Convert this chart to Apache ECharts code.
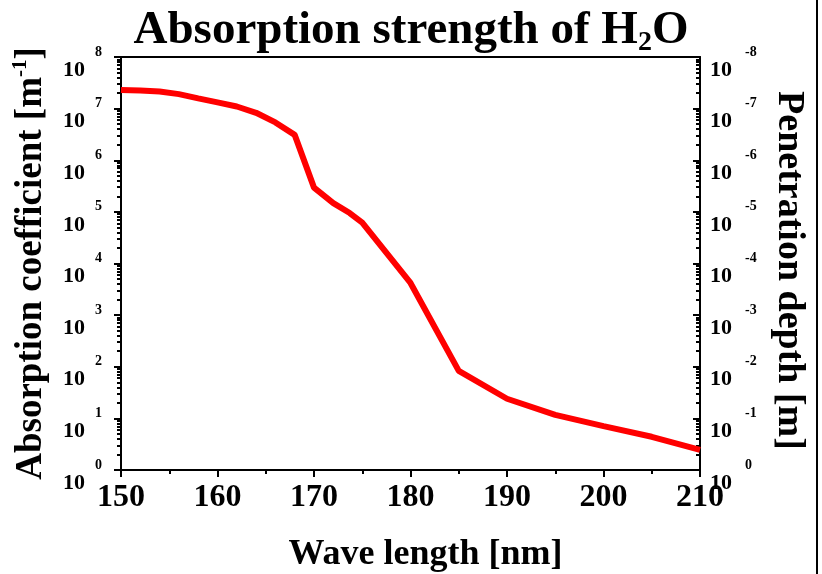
<!DOCTYPE html>
<html>
<head>
<meta charset="utf-8">
<script src="https://cdn.jsdelivr.net/npm/echarts@6/dist/echarts.min.js"></script>
<style>
  html, body { margin: 0; padding: 0; background: #fff; }
  #chart { width: 822px; height: 574px; }
</style>
</head>
<body>
<div id="chart"></div>
<script>
'use strict';

// wave length [nm]
var wavelength = [150, 152, 154, 156, 158, 160, 162, 164, 166, 168, 170, 172, 173.7, 175, 180, 185, 190, 195, 200, 205, 210];
// absorption coefficient [1/m]
var absorption = [2.29e7, 2.24e7, 2.14e7, 1.91e7, 1.58e7, 1.32e7, 1.10e7, 8.3e6, 5.4e6, 3.1e6, 2.95e5, 1.48e5, 9.5e4, 6.2e4, 4.2e3, 83, 24, 11.7, 7.1, 4.4, 2.45];

var decadeValues = [1, 10, 100, 1e3, 1e4, 1e5, 1e6, 1e7, 1e8];
var leftExpLabels = ['0', '1', '2', '3', '4', '5', '6', '7', '8'];
var rightExpLabels = ['0', '-1', '-2', '-3', '-4', '-5', '-6', '-7', '-8'];
var minorSteps = [2, 3, 4, 5, 6, 7, 8, 9];

var FONT = '"Liberation Serif", "Times New Roman", serif';

// minor tick positions in decades (exponent space) for the tick-only axes
var minorPositions = [];
for (var d = 0; d < 8; d++) {
  minorSteps.forEach(function (m) {
    minorPositions.push(d + Math.log10(m));
  });
}

function decadeIndex(v) {
  return Math.round(Math.log10(v));
}

var black = { color: '#000', width: 2 };

var tickOnlyAxis = function (pos, inside) {
  return {
    type: 'value', min: 0, max: 8, position: pos,
    axisLine: { show: false, onZero: false },
    axisTick: { show: true, inside: inside, length: 4, customValues: minorPositions, lineStyle: black },
    axisLabel: { show: false },
    splitLine: { show: false }
  };
};

var chart = echarts.init(document.getElementById('chart'));

var option = {
  animation: false,
  backgroundColor: '#fff',
  title: {
    text: 'Absorption strength of H{sub|2}O',
    left: 'center',
    top: 0,
    textStyle: {
      fontFamily: FONT, fontWeight: 'bold', fontSize: 47, color: '#000', lineHeight: 52,
      rich: {
        sub: { fontFamily: FONT, fontWeight: 'bold', fontSize: 28, lineHeight: 28, verticalAlign: 'bottom', color: '#000' }
      }
    }
  },
  grid: { left: 121, right: 122, top: 57, bottom: 104, containLabel: false, outerBoundsMode: 'none' },
  xAxis: [{
    type: 'value', min: 150, max: 210, interval: 10, position: 'bottom',
    axisLine: { onZero: false, lineStyle: black },
    axisTick: { length: 7, lineStyle: black },
    minorTick: { show: true, splitNumber: 2, length: 4, lineStyle: black },
    splitLine: { show: false },
    axisLabel: { fontFamily: FONT, fontWeight: 'bold', fontSize: 32, color: '#000', margin: 12 },
    name: 'Wave length [nm]',
    nameLocation: 'middle',
    nameGap: 67,
    nameTextStyle: { fontFamily: FONT, fontWeight: 'bold', fontSize: 36, color: '#000', padding: [0, 0, 0, 30] }
  }, {
    type: 'value', min: 150, max: 210, position: 'top',
    axisLine: { onZero: false, lineStyle: black },
    axisTick: { show: false },
    axisLabel: { show: false },
    splitLine: { show: false }
  }],
  yAxis: [{
    type: 'log', logBase: 10, min: 1, max: 1e8, position: 'left',
    axisLine: { onZero: false, lineStyle: black },
    axisTick: { length: 7, customValues: decadeValues, lineStyle: black },
    splitLine: { show: false },
    axisLabel: {
      customValues: decadeValues,
      margin: 19,
      padding: [12, 0, 0, 0],
      formatter: function (v) {
        return '{s|' + leftExpLabels[decadeIndex(v)] + '}\n{b|10}';
      },
      rich: {
        s: { fontFamily: FONT, fontWeight: 'bold', fontSize: 14, lineHeight: 14, color: '#000' },
        b: { fontFamily: FONT, fontWeight: 'bold', fontSize: 22, lineHeight: 22, color: '#000', padding: [0, 17, 0, 0] }
      }
    },
    name: 'Absorption coefficient [m{sup|-1}]',
    nameLocation: 'middle',
    nameGap: 64,
    nameTextStyle: {
      fontFamily: FONT, fontWeight: 'bold', fontSize: 37, color: '#000', lineHeight: 42,
      rich: {
        sup: { fontFamily: FONT, fontWeight: 'bold', fontSize: 21, lineHeight: 21, verticalAlign: 'top', color: '#000' }
      }
    }
  },
  tickOnlyAxis('left', false),
  {
    type: 'log', logBase: 10, min: 1, max: 1e8, position: 'right',
    axisLine: { onZero: false, lineStyle: black },
    axisTick: { inside: true, length: 7, customValues: decadeValues, lineStyle: black },
    splitLine: { show: false },
    axisLabel: {
      customValues: decadeValues,
      margin: 10,
      padding: [12, 0, 0, 0],
      formatter: function (v) {
        return '{s|' + rightExpLabels[decadeIndex(v)] + '}\n{b|10}';
      },
      rich: {
        s: { fontFamily: FONT, fontWeight: 'bold', fontSize: 14, lineHeight: 14, color: '#000', padding: [0, 0, 0, 35] },
        b: { fontFamily: FONT, fontWeight: 'bold', fontSize: 22, lineHeight: 22, color: '#000' }
      }
    },
    name: 'Penetration depth [m]',
    nameLocation: 'middle',
    nameRotate: -90,
    nameGap: 70,
    nameTextStyle: { fontFamily: FONT, fontWeight: 'bold', fontSize: 38, color: '#000', padding: [0, 0, 0, 14] }
  },
  tickOnlyAxis('right', true)],
  graphic: [{
    type: 'line',
    shape: { x1: 817, y1: 0, x2: 817, y2: 574 },
    style: { stroke: '#000', lineWidth: 2 }
  }],
  series: [{
    type: 'line',
    xAxisIndex: 0,
    yAxisIndex: 0,
    data: wavelength.map(function (w, i) { return [w, absorption[i]]; }),
    showSymbol: false,
    symbol: 'none',
    lineStyle: { color: '#ff0000', width: 6 },
    z: 5
  }]
};

chart.setOption(option);
</script>
</body>
</html>
